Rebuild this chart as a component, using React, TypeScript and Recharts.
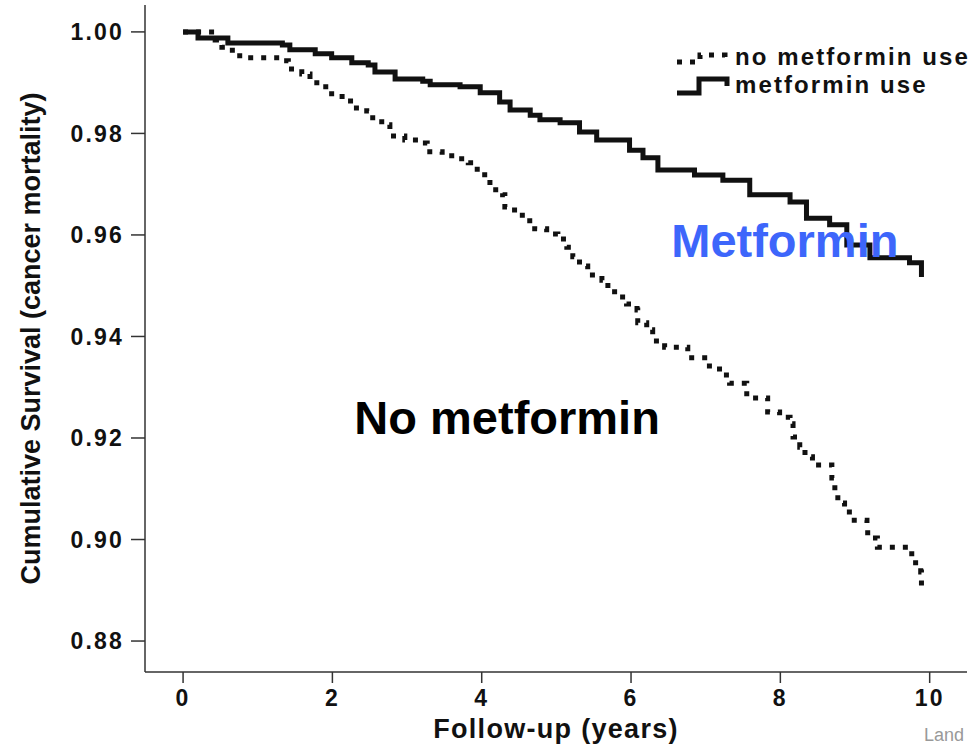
import { Label, Line, LineChart, ReferenceDot, XAxis, YAxis } from 'recharts'

const FONT = '"Liberation Sans", Arial, Helvetica, sans-serif'

// Kaplan-Meier steps (years, cumulative survival)
const metforminYears = [
	0, 0.2, 0.6, 1.33, 1.43, 1.77, 1.99, 2.26, 2.48, 2.57, 2.84, 3.21, 3.31, 3.71, 3.98, 4.24, 4.38,
	4.65, 4.78, 5.05, 5.31, 5.54, 5.98, 6.16, 6.36, 6.85, 7.23, 7.59, 8.13, 8.35, 8.66, 8.89, 9.2,
	9.73, 9.89,
]
const metforminSurvival = [
	1.0, 0.9988, 0.9978, 0.9974, 0.9965, 0.9957, 0.9949, 0.9939, 0.9935, 0.9921, 0.9907, 0.9903,
	0.9896, 0.9892, 0.988, 0.9862, 0.9846, 0.9836, 0.9827, 0.9821, 0.9803, 0.9787, 0.9767, 0.9752,
	0.9728, 0.9718, 0.9708, 0.9679, 0.9665, 0.9633, 0.962, 0.958, 0.9555, 0.9545, 0.9517,
]

const noMetforminYears = [
	0, 0.43, 0.52, 0.66, 0.86, 1.33, 1.41, 1.59, 1.7, 1.86, 1.99, 2.13, 2.28, 2.46, 2.54, 2.7, 2.77,
	2.97, 3.15, 3.27, 3.47, 3.64, 3.82, 3.94, 4.04, 4.11, 4.28, 4.31, 4.44, 4.58, 4.71, 4.87, 5.02,
	5.14, 5.22, 5.31, 5.42, 5.61, 5.69, 5.78, 5.94, 6.08, 6.09, 6.21, 6.29, 6.45, 6.76, 7.05, 7.22,
	7.32, 7.55, 7.83, 7.99, 8.13, 8.17, 8.26, 8.33, 8.43, 8.69, 8.73, 8.77, 8.86, 8.99, 9.16, 9.17,
	9.3, 9.73, 9.76, 9.88, 9.89,
]
const noMetforminSurvival = [
	1.0, 0.9984, 0.997, 0.9953, 0.9949, 0.9943, 0.9927, 0.9917, 0.99, 0.9892, 0.9878, 0.9864, 0.985,
	0.9844, 0.9823, 0.9817, 0.9795, 0.9787, 0.9781, 0.9764, 0.9756, 0.975, 0.9742, 0.9724, 0.971,
	0.9689, 0.9679, 0.9655, 0.9639, 0.9628, 0.9612, 0.9602, 0.9592, 0.9576, 0.9557, 0.9539, 0.9521,
	0.9511, 0.9494, 0.9478, 0.9464, 0.9452, 0.9427, 0.9413, 0.9391, 0.9379, 0.9358, 0.9336, 0.9324,
	0.9308, 0.9279, 0.9251, 0.9241, 0.9228, 0.9202, 0.9182, 0.9163, 0.9147, 0.9121, 0.9094, 0.9072,
	0.9054, 0.9038, 0.9025, 0.9003, 0.8985, 0.8979, 0.8954, 0.8936, 0.8908,
]

const xTicks = [0, 2, 4, 6, 8, 10]
const yTicks = [0.88, 0.9, 0.92, 0.94, 0.96, 0.98, 1.0]

const metforminData = metforminYears.map((t, i) => ({ t, s: metforminSurvival[i] }))
const noMetforminData = noMetforminYears.map((t, i) => ({ t, s: noMetforminSurvival[i] }))

const axisColor = '#333'
const tickStyle = {
	fontSize: 23,
	fontWeight: 700,
	fill: '#111',
	fontFamily: FONT,
	letterSpacing: 2.2,
}

function ChartLegend() {
	const row = {
		display: 'flex',
		alignItems: 'center',
		height: 28,
	}
	return (
		<div
			style={{
				position: 'absolute',
				left: 675,
				top: 43,
				fontFamily: FONT,
				fontWeight: 700,
				fontSize: 24,
				letterSpacing: 2.1,
				color: '#111',
				whiteSpace: 'nowrap',
			}}
		>
			<div style={row}>
				<svg width={60} height={20}>
					<path
						d='M2 15 H25 V8 H50 V16'
						fill='none'
						stroke='#111'
						strokeWidth={5}
						strokeDasharray='5 8'
					/>
				</svg>
				<span>no metformin use</span>
			</div>
			<div style={row}>
				<svg width={60} height={24}>
					<path d='M2 20 H24 V6 H52 V13' fill='none' stroke='#111' strokeWidth={5} />
				</svg>
				<span>metformin use</span>
			</div>
		</div>
	)
}

export default function App() {
	return (
		<div
			style={{
				position: 'relative',
				width: 969,
				height: 748,
				overflow: 'hidden',
				background: '#fff',
			}}
		>
			<style>{'html, body { margin: 0; padding: 0; overflow: hidden; }'}</style>
			<LineChart width={969} height={748} margin={{ top: 5, right: 2, left: 0, bottom: 0 }}>
				<XAxis
					type='number'
					dataKey='t'
					domain={[-0.51, 10.5]}
					ticks={xTicks}
					allowDataOverflow
					height={76}
					tickSize={11}
					tickMargin={7}
					tick={tickStyle}
					axisLine={{ stroke: axisColor, strokeWidth: 1.5 }}
					tickLine={{ stroke: axisColor, strokeWidth: 1.5 }}
				>
					<Label
						value='Follow-up (years)'
						position='center'
						dy={18}
						style={{
							fontSize: 27,
							fontWeight: 700,
							fill: '#111',
							fontFamily: FONT,
							letterSpacing: 1.3,
						}}
					/>
				</XAxis>
				<YAxis
					type='number'
					dataKey='s'
					domain={[0.8739, 1.0053]}
					ticks={yTicks}
					allowDataOverflow
					width={145}
					tickSize={14}
					tickMargin={7}
					tick={tickStyle}
					tickFormatter={(v: number) => v.toFixed(2)}
					axisLine={{ stroke: axisColor, strokeWidth: 1.5 }}
					tickLine={{ stroke: axisColor, strokeWidth: 1.5 }}
				>
					<Label
						value='Cumulative Survival (cancer mortality)'
						angle={-90}
						position='center'
						dx={-42}
						style={{
							fontSize: 27,
							fontWeight: 700,
							fill: '#111',
							fontFamily: FONT,
							textAnchor: 'middle',
						}}
					/>
				</YAxis>
				<Line
					data={noMetforminData}
					dataKey='s'
					type='stepAfter'
					stroke='#111'
					strokeWidth={5}
					strokeDasharray='5 8'
					dot={false}
					isAnimationActive={false}
				/>
				<Line
					data={metforminData}
					dataKey='s'
					type='stepAfter'
					stroke='#111'
					strokeWidth={5}
					dot={false}
					isAnimationActive={false}
				/>
				<ReferenceDot
					x={8.06}
					y={0.959}
					r={0}
					fill='none'
					stroke='none'
					label={{
						value: 'Metformin',
						position: 'center',
						fill: '#3d66fb',
						fontSize: 47,
						fontWeight: 700,
						fontFamily: FONT,
					}}
				/>
				<ReferenceDot
					x={4.34}
					y={0.9241}
					r={0}
					fill='none'
					stroke='none'
					label={{
						value: 'No metformin',
						position: 'center',
						fill: '#000',
						fontSize: 47,
						fontWeight: 700,
						fontFamily: FONT,
					}}
				/>
			</LineChart>
			<ChartLegend />
			<div
				style={{
					position: 'absolute',
					left: 924,
					top: 725,
					fontFamily: FONT,
					fontSize: 18,
					color: '#999',
				}}
			>
				Land
			</div>
		</div>
	)
}
